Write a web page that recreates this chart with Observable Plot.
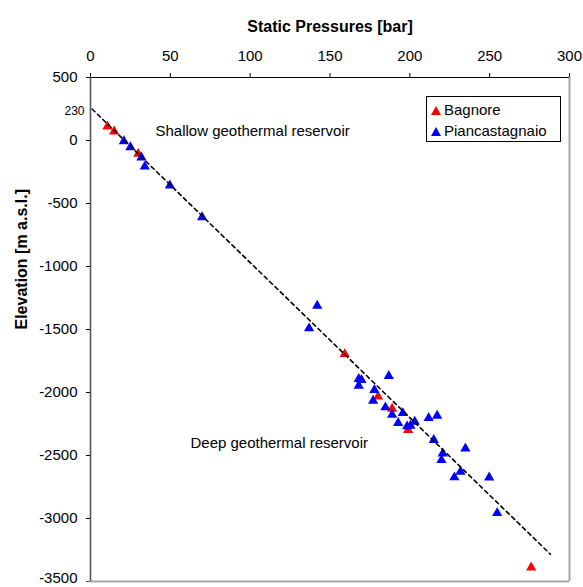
<!DOCTYPE html>
<html>
<head>
<meta charset="utf-8">
<script src="https://cdn.jsdelivr.net/npm/d3@7"></script>
<script src="https://cdn.jsdelivr.net/npm/@observablehq/plot@0.6"></script>
<style>
  html, body { margin: 0; padding: 0; background: white; }
  #wrap { position: relative; width: 583px; height: 587px; font-family: "Liberation Sans", Arial, sans-serif; }
  #legend { position: absolute; left: 426px; top: 96px; width: 133px; height: 44px; border: 1px solid #000; background: white; font-size: 15px; }
  #legend .row { position: absolute; left: 4px; height: 18px; line-height: 18px; white-space: nowrap; }
  #legend svg { vertical-align: middle; margin-right: 3px; position: relative; top: -1px; }
</style>
</head>
<body>
<div id="wrap"></div>
<script>
// Data
const bagnorePressure = [10.6, 14.8, 29.9, 159.2, 180.1, 188.9, 198.9, 276.0];
const bagnoreElevation = [111, 72, -106, -1695, -2033, -2129, -2298, -3389];

const piancPressure = [20.9, 25.0, 31.9, 34.0, 49.7, 69.9, 142.0, 136.9, 168.0, 169.7, 168.0, 186.8, 177.8, 177.0, 184.7, 188.9, 195.6, 192.7, 198.3, 200.4, 203.1, 211.8, 217.1, 215.0, 220.6, 219.8, 234.8, 231.7, 227.9, 249.7, 254.7];
const piancElevation = [-6, -53, -135, -207, -357, -609, -1311, -1491, -1893, -1901, -1946, -1869, -1980, -2065, -2118, -2176, -2163, -2242, -2269, -2264, -2232, -2203, -2184, -2377, -2484, -2536, -2444, -2629, -2673, -2674, -2957];

// Hydrostatic trend line (dashed)
const trendPressure = [1, 288];
const trendElevation = [250, -3283];

const xTicks = [0, 50, 100, 150, 200, 250, 300];
const yTicks = [500, 0, -500, -1000, -1500, -2000, -2500, -3000];
const yTickBottom = [-3500];

const seriesNames = ["Bagnore", "Piancastagnaio"];
const seriesColors = ["#ff0000", "#0000ff"];

const annotations = [
  {p: 40.7, e: 71, text: "Shallow geothermal reservoir"},
  {p: 62.6, e: -2399, text: "Deep geothermal reservoir"}
];
const specialLabel = [{e: 230, text: "230"}];

const bagnore = bagnorePressure.map((p, i) => ({p, e: bagnoreElevation[i]}));
const pianc = piancPressure.map((p, i) => ({p, e: piancElevation[i]}));
const trend = trendPressure.map((p, i) => ({p, e: trendElevation[i]}));

const font = '"Liberation Sans", Arial, sans-serif';

const chart = Plot.plot({
  width: 583,
  height: 587,
  marginLeft: 90,
  marginRight: 14,
  marginTop: 77,
  marginBottom: 6,
  style: {fontFamily: font, fontSize: "15px", background: "white", overflow: "visible"},
  x: {domain: [0, 300], axis: null},
  y: {domain: [-3500, 500], axis: null},
  marks: [
    Plot.axisX({anchor: "top", ticks: xTicks, tickSize: 5, tickPadding: 12, label: null, tickFormat: d => String(d), fontSize: 15}),
    Plot.axisY({anchor: "left", ticks: yTicks, tickSize: 4, tickPadding: 9, label: null, tickFormat: d => String(d), fontSize: 15}),
    Plot.tickY(yTickBottom, {y: d => d, x1: 0, dx: -4, stroke: "#555"}),
    Plot.text(yTickBottom, {x: () => 0, y: d => d, text: d => String(d), textAnchor: "end", dx: -13, dy: -3, fontSize: 15}),
    Plot.ruleX([300], {stroke: "#a6a6a6", strokeWidth: 2}),
    Plot.ruleY([-3500], {stroke: "#a6a6a6", strokeWidth: 2}),
    Plot.ruleY([500], {stroke: "#000", strokeWidth: 1.2}),
    Plot.ruleX([0], {stroke: "#555", strokeWidth: 1.6}),
    Plot.text(specialLabel, {x: () => 0, y: "e", text: "text", textAnchor: "end", dx: -6, fontSize: 12}),
    Plot.dot(bagnore, {x: "p", y: "e", symbol: "triangle", r: 3.8, fill: seriesColors[0], stroke: "none"}),
    Plot.dot(pianc, {x: "p", y: "e", symbol: "triangle", r: 3.8, fill: seriesColors[1], stroke: "none"}),
    Plot.line(trend, {x: "p", y: "e", stroke: "#000", strokeWidth: 1.6, strokeDasharray: "4,3.5"}),
    Plot.text(annotations, {x: "p", y: "e", text: "text", textAnchor: "start", fontSize: 15}),
    Plot.text(["Static Pressures [bar]"], {frameAnchor: "top", dy: -57, fontWeight: "bold", fontSize: 16}),
    Plot.text(["Elevation [m a.s.l.]"], {frameAnchor: "left", dx: -69, rotate: -90, fontWeight: "bold", fontSize: 16})
  ]
});

const wrap = document.getElementById("wrap");
wrap.appendChild(chart);

// Legend
const legend = document.createElement("div");
legend.id = "legend";
seriesNames.forEach((name, i) => {
  const row = document.createElement("div");
  row.className = "row";
  row.style.top = (4 + i * 21) + "px";
  row.innerHTML = `<svg width="10" height="9" viewBox="0 0 10 9"><polygon points="5,0 10,9 0,9" fill="${seriesColors[i]}"/></svg>${name}`;
  legend.appendChild(row);
});
wrap.appendChild(legend);
</script>
</body>
</html>
